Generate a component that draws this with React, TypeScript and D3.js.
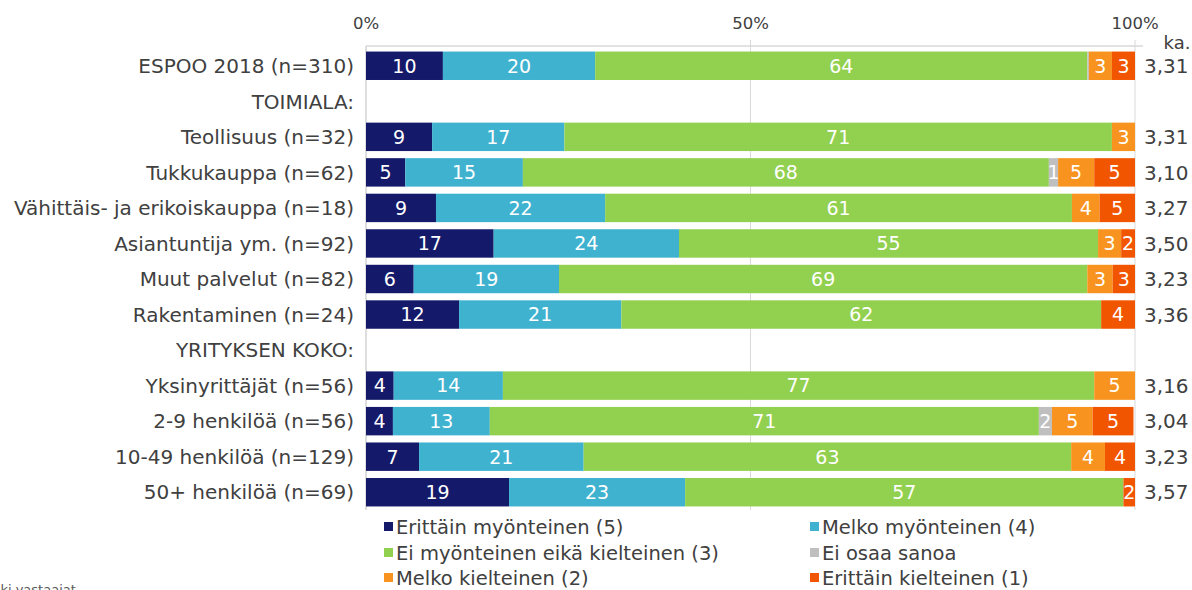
import * as d3 from "d3";

const WIDTH = 1192;
const HEIGHT = 590;

const categories = [
  "ESPOO 2018 (n=310)",
  "TOIMIALA:",
  "Teollisuus (n=32)",
  "Tukkukauppa (n=62)",
  "Vähittäis- ja erikoiskauppa (n=18)",
  "Asiantuntija ym. (n=92)",
  "Muut palvelut (n=82)",
  "Rakentaminen (n=24)",
  "YRITYKSEN KOKO:",
  "Yksinyrittäjät (n=56)",
  "2-9 henkilöä (n=56)",
  "10-49 henkilöä (n=129)",
  "50+ henkilöä (n=69)",
];

// null = header row without a bar
const erittainMyonteinen = [10.0, null, 8.6, 5.1, 9.1, 16.6, 6.2, 12.1, null, 3.6, 3.5, 6.9, 18.6];
const melkoMyonteinen = [19.8, null, 17.2, 15.3, 22.0, 24.1, 18.9, 21.1, null, 14.2, 12.6, 21.4, 22.9];
const eiMyonteinen = [64.0, null, 71.2, 68.4, 60.7, 54.5, 68.7, 62.4, null, 76.9, 71.4, 63.4, 57.0];
const eiOsaa = [0.2, null, 0, 1.2, 0, 0, 0, 0, null, 0, 1.7, 0, 0];
const melkoKielteinen = [3.0, null, 3.0, 4.7, 3.6, 3.0, 3.3, 0, null, 5.3, 5.3, 4.4, 0];
const erittainKielteinen = [3.0, null, 0, 5.3, 4.6, 1.8, 2.9, 4.4, null, 0, 5.3, 3.9, 1.5];

const keskiarvo = ["3,31", "", "3,31", "3,10", "3,27", "3,50", "3,23", "3,36", "", "3,16", "3,04", "3,23", "3,57"];

const xTicks = [0, 50, 100];

const series = [
  { label: "Erittäin myönteinen (5)", color: "#141a69", values: erittainMyonteinen },
  { label: "Melko myönteinen (4)", color: "#3fb2cf", values: melkoMyonteinen },
  { label: "Ei myönteinen eikä kielteinen (3)", color: "#92d050", values: eiMyonteinen },
  { label: "Ei osaa sanoa", color: "#bfbfbf", values: eiOsaa },
  { label: "Melko kielteinen (2)", color: "#f7931e", values: melkoKielteinen },
  { label: "Erittäin kielteinen (1)", color: "#f25500", values: erittainKielteinen },
];

const FONT = "Verdana, 'DejaVu Sans', sans-serif";
const TEXT = "#404040";

export default function App() {
  const margin = { left: 366, right: 57, top: 48, bottom: 80 };
  const x = d3.scaleLinear().domain([0, 100]).range([margin.left, WIDTH - margin.right]);
  const y = d3
    .scaleBand<string>()
    .domain(categories)
    .range([margin.top, 510])
    .paddingInner(0.2)
    .paddingOuter(0.1);

  const stacked = categories.map((_, i) => {
    let acc = 0;
    return series.map((s) => {
      const v = s.values[i];
      const start = acc;
      acc += v ?? 0;
      return { v, start, end: acc, color: s.color };
    });
  });

  const legendX = [384, 810];
  const legendY = [527, 553, 578];

  return (
    <svg
      width={WIDTH}
      height={HEIGHT}
      style={{ position: "absolute", left: 0, top: 0, background: "#fff" }}
      fontFamily={FONT}
    >
      {/* footnote, partly outside the picture as in the source */}
      <text x={-27} y={594} fontSize={13} fill="#595959">
        Kaikki vastaajat
      </text>

      {/* gridlines */}
      {xTicks.map((t) => (
        <line
          key={t}
          x1={x(t)}
          x2={x(t)}
          y1={t === 0 ? 46 : 40}
          y2={510}
          stroke={t === 0 ? "#bdbdbd" : "#d9d9d9"}
          strokeWidth={1}
        />
      ))}
      <line x1={x(0)} x2={x(100) + 8} y1={46} y2={46} stroke="#d9d9d9" strokeWidth={1.5} />
      {xTicks.map((t) => (
        <text key={t} x={x(t)} y={29} fontSize={16.5} fill={TEXT} textAnchor="middle">
          {t}%
        </text>
      ))}
      <text x={1177} y={49} fontSize={18} fill={TEXT} textAnchor="middle">
        ka.
      </text>

      {categories.map((c, i) => {
        const yc = (y(c) ?? 0) + y.bandwidth() / 2;
        return (
          <g key={c}>
            <text x={354} y={yc} dy="0.36em" fontSize={20} fill={TEXT} textAnchor="end">
              {c}
            </text>
            {stacked[i].map((seg, j) =>
              seg.v == null || seg.v <= 0 ? null : (
                <g key={j}>
                  <rect
                    x={x(seg.start)}
                    y={y(c)}
                    width={x(seg.end) - x(seg.start)}
                    height={y.bandwidth()}
                    fill={seg.color}
                  />
                  {Math.round(seg.v) >= 1 && (
                    <text
                      x={(x(seg.start) + x(seg.end)) / 2}
                      y={yc}
                      dy="0.36em"
                      fontSize={19}
                      fill="#fff"
                      textAnchor="middle"
                    >
                      {Math.round(seg.v)}
                    </text>
                  )}
                </g>
              )
            )}
            {keskiarvo[i] && (
              <text x={1144} y={yc} dy="0.36em" fontSize={20} fill={TEXT}>
                {keskiarvo[i]}
              </text>
            )}
          </g>
        );
      })}

      {series.map((s, i) => {
        const lx = legendX[i % 2];
        const ly = legendY[Math.floor(i / 2)];
        return (
          <g key={s.label}>
            <rect x={lx} y={ly - 5} width={9} height={9} fill={s.color} />
            <text x={lx + 12} y={ly} dy="0.36em" fontSize={19.5} fill={TEXT}>
              {s.label}
            </text>
          </g>
        );
      })}
    </svg>
  );
}
